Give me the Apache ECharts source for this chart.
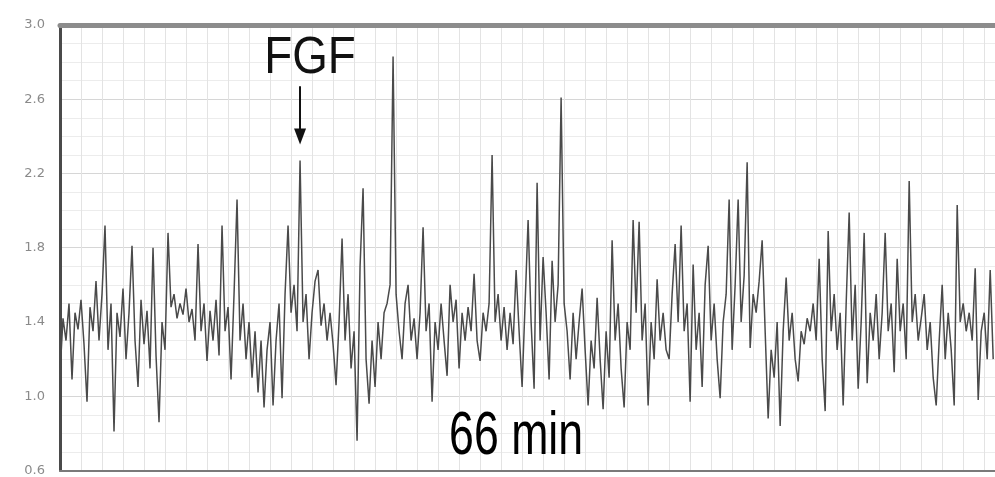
<!DOCTYPE html>
<html>
<head>
<meta charset="utf-8">
<script src="https://cdn.jsdelivr.net/npm/echarts@6/dist/echarts.min.js"></script>
<style>
html,body{margin:0;padding:0;background:#fff;}
#chart{width:995px;height:477px;}
</style>
</head>
<body>
<div id="chart"></div>
<script>
// y tick labels
const yTicks = [0.6, 1.0, 1.4, 1.8, 2.2, 2.6, 3.0];

// trace values (sampled left to right)
const trace = [
  1.12,1.42,1.30,1.50,1.09,1.45,1.36,1.52,1.28,0.97,
  1.48,1.35,1.62,1.30,1.55,1.92,1.25,1.50,0.81,1.45,
  1.32,1.58,1.20,1.45,1.81,1.30,1.05,1.52,1.28,1.46,
  1.15,1.80,1.22,0.86,1.40,1.25,1.88,1.48,1.55,1.42,
  1.50,1.44,1.58,1.40,1.47,1.30,1.82,1.35,1.50,1.19,
  1.46,1.30,1.52,1.22,1.92,1.35,1.48,1.09,1.55,2.06,
  1.30,1.50,1.20,1.40,1.10,1.35,1.02,1.30,0.94,1.25,
  1.40,0.95,1.30,1.50,0.99,1.55,1.92,1.45,1.60,1.35,
  2.27,1.40,1.55,1.20,1.45,1.62,1.68,1.38,1.50,1.30,
  1.45,1.28,1.06,1.40,1.85,1.30,1.55,1.15,1.35,0.76,
  1.70,2.12,1.20,0.96,1.30,1.05,1.40,1.20,1.45,1.50,
  1.60,2.83,1.55,1.35,1.20,1.50,1.60,1.30,1.42,1.20,
  1.45,1.91,1.35,1.50,0.97,1.40,1.25,1.50,1.30,1.11,
  1.60,1.40,1.52,1.15,1.45,1.30,1.48,1.35,1.66,1.30,
  1.19,1.45,1.35,1.50,2.30,1.40,1.55,1.30,1.48,1.25,
  1.45,1.28,1.68,1.35,1.05,1.50,1.95,1.40,1.04,2.15,
  1.30,1.75,1.45,1.09,1.73,1.40,1.60,2.61,1.50,1.35,
  1.09,1.45,1.20,1.40,1.58,1.25,0.95,1.30,1.15,1.53,
  1.20,0.93,1.35,1.10,1.84,1.30,1.50,1.15,0.94,1.40,
  1.25,1.95,1.45,1.94,1.30,1.50,0.95,1.40,1.20,1.63,
  1.30,1.45,1.25,1.20,1.55,1.82,1.40,1.92,1.35,1.50,
  0.97,1.71,1.25,1.45,1.05,1.60,1.81,1.30,1.50,1.20,
  0.99,1.40,1.55,2.06,1.25,1.60,2.06,1.40,1.65,2.26,
  1.26,1.55,1.45,1.62,1.84,1.35,0.88,1.25,1.10,1.40,
  0.84,1.35,1.64,1.30,1.45,1.20,1.08,1.35,1.28,1.42,
  1.35,1.50,1.30,1.74,1.20,0.92,1.89,1.35,1.55,1.25,
  1.45,0.95,1.50,1.99,1.30,1.60,1.04,1.40,1.88,1.07,
  1.45,1.30,1.55,1.20,1.45,1.88,1.35,1.50,1.13,1.74,
  1.35,1.50,1.20,2.16,1.40,1.55,1.30,1.42,1.55,1.25,
  1.40,1.10,0.95,1.30,1.60,1.20,1.45,1.25,0.95,2.03,
  1.40,1.50,1.35,1.45,1.30,1.69,0.98,1.35,1.45,1.20,
  1.68,1.20
];

// annotations
const fgfIndex = 80;
const fgfLabel = 'FGF';
const durationLabel = '66 min';

const chart = echarts.init(document.getElementById('chart'));
const data = trace.map((v, i) => [i, v]);
const xMax = trace.length - 1 + 0.6;

chart.setOption({
  animation: false,
  backgroundColor: '#ffffff',
  grid: { left: 60, right: 0, top: 25, bottom: 2 },
  xAxis: [{
    type: 'value', min: 0, max: xMax, interval: 7,
    axisLine: { show: true, lineStyle: { color: '#7a7a7a', width: 2 } },
    axisTick: { show: false }, axisLabel: { show: false },
    splitLine: { show: true, lineStyle: { color: '#e3e3e3', width: 1 } }
  }, {
    type: 'value', position: 'top', min: 0, max: xMax,
    axisLine: { show: true, onZero: false, lineStyle: { color: '#8c8c8c', width: 5 } },
    axisTick: { show: false }, axisLabel: { show: false }, splitLine: { show: false }
  }],
  yAxis: {
    type: 'value', min: yTicks[0], max: yTicks[yTicks.length - 1], interval: 0.4,
    axisLine: { show: true, lineStyle: { color: '#4a4a4a', width: 3 } },
    axisTick: { show: false },
    axisLabel: { color: '#8a8a8a', fontSize: 13, margin: 15, fontFamily: 'DejaVu Sans',
      formatter: v => v.toFixed(1) },
    splitLine: { show: true, lineStyle: { color: '#d6d6d6', width: 1 } },
    minorTick: { show: false, splitNumber: 4 },
    minorSplitLine: { show: true, lineStyle: { color: '#ececec', width: 1 } }
  },
  series: [{
    type: 'line', data: data, showSymbol: false, symbol: 'none',
    lineStyle: { color: '#4a4a4a', width: 1.5 },
    markLine: {
      silent: true, symbol: ['none', 'triangle'], symbolSize: [12, 16],
      label: { show: false },
      lineStyle: { color: '#111', width: 2, type: 'solid' },
      data: [[{ coord: [fgfIndex, 2.67] }, { coord: [fgfIndex, 2.40] }]]
    }
  }]
});

const p1 = chart.convertToPixel({ gridIndex: 0 }, [fgfIndex, 2.82]);
const p2 = chart.convertToPixel({ gridIndex: 0 }, [152, 0.78]);
chart.setOption({
  graphic: [{
    type: 'text', x: p1[0] + 10, y: p1[1], scaleX: 0.88,
    style: { text: fgfLabel, font: '52px "Liberation Sans", Arial, sans-serif', fill: '#111',
      textAlign: 'center', textVerticalAlign: 'middle' }
  }, {
    type: 'text', x: p2[0], y: p2[1], scaleX: 0.72,
    style: { text: durationLabel, font: '62px "Liberation Sans", Arial, sans-serif', fill: '#000',
      textAlign: 'center', textVerticalAlign: 'middle' }
  }]
});
</script>
</body>
</html>
